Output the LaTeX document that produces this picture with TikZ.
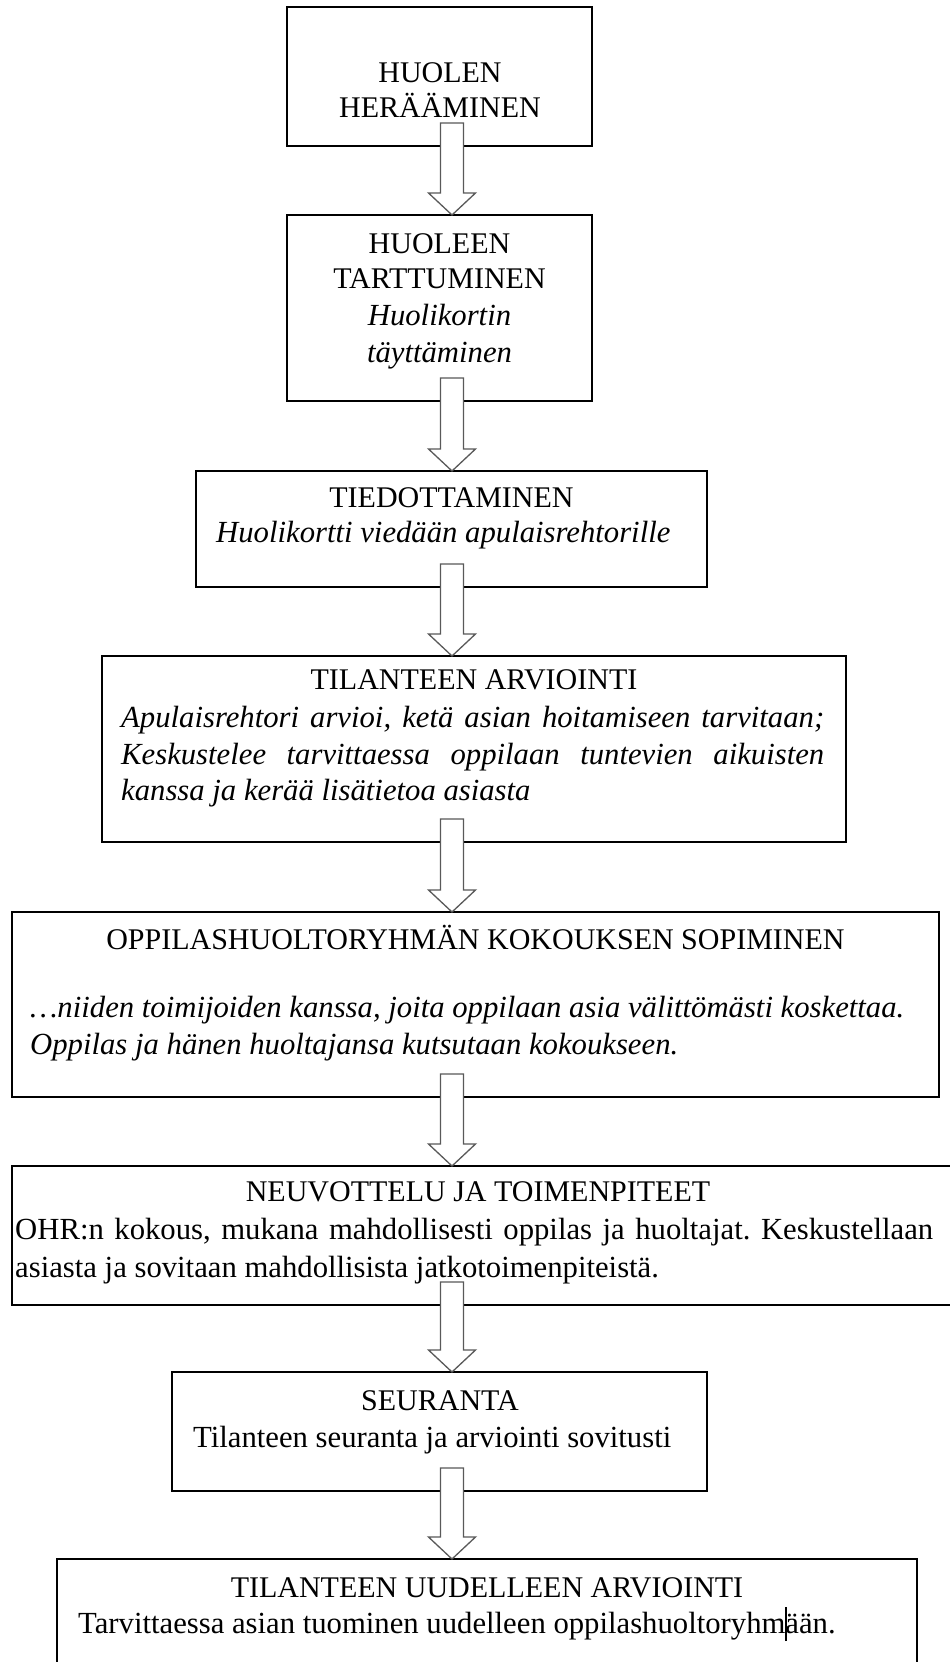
\documentclass[tikz,border=0pt]{standalone}
\usepackage{fontspec}
\setmainfont{Liberation Serif}
\usetikzlibrary{calc}
\frenchspacing
\newcommand\blockarr[2]{%
  \draw[barrow] let \p1=(ax |- #1.south), \p2=(ax |- #2.north) in
    (\x1-11.5pt,\y1+23pt) -- (\x1-11.5pt,\y2+22pt) -- (\x1-23.5pt,\y2+22pt) --
    (\x2,\y2) -- (\x1+23.5pt,\y2+22pt) -- (\x1+11.5pt,\y2+22pt) --
    (\x1+11.5pt,\y1+23pt) -- cycle;}
\begin{document}
\begin{tikzpicture}[x=1pt,y=-1pt,
  box/.style={draw=black, line width=1.5pt, inner sep=0pt, outer sep=0pt},
  barrow/.style={draw=black!65, line width=1.3pt, fill=white, line join=miter},
  txt/.style={inner sep=0pt, anchor=base, font=\fontsize{30}{36}\selectfont\frenchspacing},
  ltxt/.style={txt, anchor=base west, font=\fontsize{30.7}{36}\selectfont\frenchspacing},
  itx/.style={font=\fontsize{30.7}{36}\selectfont\itshape\frenchspacing}]
\useasboundingbox (0,0) rectangle (950,1662);
\fill[white] (0,0) rectangle (950,1662);
% boxes
\node[box, minimum width=305pt, minimum height=139pt] (b1) at (439.5,76.5) {};
\node[box, minimum width=305pt, minimum height=186pt] (b2) at (439.5,308) {};
\node[box, minimum width=511pt, minimum height=116pt] (b3) at (451.5,529) {};
\node[box, minimum width=744pt, minimum height=186pt] (b4) at (474,749) {};
\node[box, minimum width=927pt, minimum height=185pt] (b5) at (475.5,1004.5) {};
\node[box, minimum width=942pt, minimum height=139pt] (b6) at (483,1235.5) {};
\node[box, minimum width=535pt, minimum height=119pt] (b7) at (439.5,1431.5) {};
\node[box, minimum width=860pt, minimum height=141pt] (b8) at (487,1629.5) {};
% arrows
\coordinate (ax) at (452,0);
\blockarr{b1}{b2}
\blockarr{b2}{b3}
\blockarr{b3}{b4}
\blockarr{b4}{b5}
\blockarr{b5}{b6}
\blockarr{b6}{b7}
\blockarr{b7}{b8}
% texts
\node[txt] (t1a) at (440,82) {HUOLEN};
\node[txt] (t1b) at (440,117) {HERÄÄMINEN};
\node[txt] (t2a) at (439.5,253) {HUOLEEN};
\node[txt] (t2b) at (439.5,288) {TARTTUMINEN};
\node[txt,itx] (t2c) at (439.5,325) {Huolikortin};
\node[txt,itx] (t2d) at (439.5,362) {täyttäminen};
\node[txt] (t3a) at (451.5,507) {TIEDOTTAMINEN};
\node[ltxt,itx] (t3b) at (216,542) {Huolikortti viedään apulaisrehtorille};
\node[txt] (t4a) at (474,689) {TILANTEEN ARVIOINTI};
\node[ltxt,itx] (t4b) at (121,727) {\makebox[703pt][s]{Apulaisrehtori arvioi, ketä asian hoitamiseen tarvitaan;}};
\node[ltxt,itx] (t4c) at (121,764) {\makebox[703pt][s]{Keskustelee tarvittaessa oppilaan tuntevien aikuisten}};
\node[ltxt,itx] (t4d) at (121,800) {kanssa ja kerää lisätietoa asiasta};
\node[txt] (t5a) at (475.5,949) {OPPILASHUOLTORYHMÄN KOKOUKSEN SOPIMINEN};
\node[ltxt,itx] (t5b) at (30,1017) {…niiden toimijoiden kanssa, joita oppilaan asia välittömästi koskettaa.};
\node[ltxt,itx] (t5c) at (30,1054) {Oppilas ja hänen huoltajansa kutsutaan kokoukseen.};
\node[txt] (t6a) at (478,1201) {NEUVOTTELU JA TOIMENPITEET};
\node[ltxt] (t6b) at (15,1239) {\makebox[918pt][s]{OHR:n kokous, mukana mahdollisesti oppilas ja huoltajat. Keskustellaan}};
\node[ltxt] (t6c) at (15,1277) {asiasta ja sovitaan mahdollisista jatkotoimenpiteistä.};
\node[txt] (t7a) at (440,1410) {SEURANTA};
\node[ltxt] (t7b) at (193,1447) {Tilanteen seuranta ja arviointi sovitusti};
\node[txt] (t8a) at (487,1597) {TILANTEEN UUDELLEEN ARVIOINTI};
\node[ltxt] (t8b) at (78,1633) {Tarvittaessa asian tuominen uudelleen oppilashuoltoryhm\rlap{\rule[-8pt]{1.2pt}{34pt}}ään.};
\end{tikzpicture}
\end{document}
